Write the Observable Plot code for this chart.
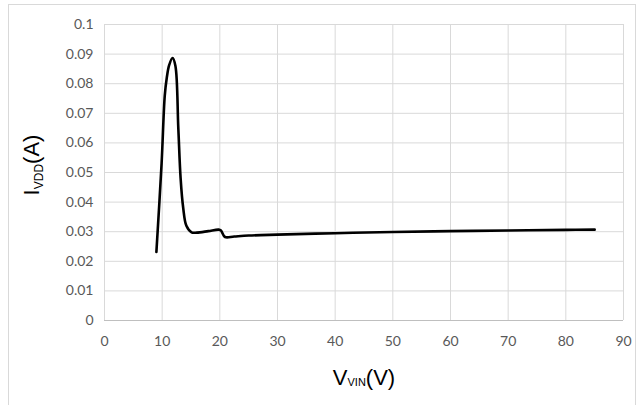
<!DOCTYPE html>
<html><head><meta charset="utf-8">
<script src="https://cdn.jsdelivr.net/npm/d3@7"></script>
<script src="https://cdn.jsdelivr.net/npm/@observablehq/plot@0.6"></script>
<style>
html,body{margin:0;padding:0;background:#fff;}
#chart{position:relative;width:637px;height:405px;overflow:hidden;}
</style>
</head><body><div id="chart"></div>
<script>
const vin  = [9.0, 9.9, 10.45, 10.8, 11.2, 11.8, 12.3, 12.8, 13.2, 13.65, 14.2, 15.1, 16.0, 18.0, 19.8, 20.2, 20.9, 22.5, 25, 30, 40, 50, 60, 70, 80, 85];
const ivdd = [0.0232, 0.053, 0.076, 0.082, 0.0862, 0.0887, 0.086, 0.065, 0.048, 0.038, 0.032, 0.0298, 0.0297, 0.0302, 0.0307, 0.0304, 0.0282, 0.0284, 0.0287, 0.0290, 0.0295, 0.0299, 0.0302, 0.0304, 0.0306, 0.0307];
const xTicks = [0, 10, 20, 30, 40, 50, 60, 70, 80, 90];
const yTicks = [0, 0.01, 0.02, 0.03, 0.04, 0.05, 0.06, 0.07, 0.08, 0.09, 0.1];
const yTickLabels = ["0", "0.01", "0.02", "0.03", "0.04", "0.05", "0.06", "0.07", "0.08", "0.09", "0.1"];
const xTitle = {main: "V", sub: "VIN", rest: "(V)"};
const yTitle = {main: "I", sub: "VDD", rest: "(A)"};

const data = vin.map((v, k) => ({v, i: ivdd[k]}));

const chart = Plot.plot({
  width: 637, height: 405,
  marginLeft: 104, marginRight: 14, marginTop: 24, marginBottom: 85,
  style: {fontFamily: "Lato, sans-serif", fontSize: "14px", color: "#595959", background: "white", overflow: "visible"},
  x: {domain: [0, 90], ticks: xTicks, label: null, tickSize: 0, tickPadding: 16, tickFormat: d => String(d)},
  y: {domain: [0, 0.1], ticks: yTicks, label: null, tickSize: 0, tickPadding: 11,
      tickFormat: d => yTickLabels[yTicks.findIndex(t => Math.abs(t - d) < 1e-9)]},
  marks: [
    Plot.gridX(xTicks, {stroke: "#d9d9d9", strokeOpacity: 1}),
    Plot.gridY(yTicks, {stroke: "#d9d9d9", strokeOpacity: 1}),
    Plot.ruleY([0], {stroke: "#bfbfbf"}),
    Plot.line(data, {x: "v", y: "i", stroke: "black", strokeWidth: 2.6, curve: "catmull-rom"})
  ]
});
document.getElementById("chart").appendChild(chart);

const svg = d3.select(chart);
svg.insert("rect", ":first-child")
  .attr("x", 8.5).attr("y", 4.5).attr("width", 627).attr("height", 420)
  .attr("fill", "none").attr("stroke", "#d9d9d9");

function title(sel, t, big, small, shift) {
  sel.attr("font-family", "'Liberation Sans', Arial, sans-serif").attr("fill", "black")
     .attr("font-size", big).attr("text-anchor", "middle");
  sel.append("tspan").text(t.main);
  sel.append("tspan").attr("font-size", small).attr("dy", shift).text(t.sub);
  sel.append("tspan").attr("dy", -shift).text(t.rest);
}
title(svg.append("text").attr("x", 364).attr("y", 385), xTitle, 22, 11, 1);
title(svg.append("text").attr("transform", "translate(39,165) rotate(-90)"), yTitle, 22, 12, 4);
</script>
</body></html>
